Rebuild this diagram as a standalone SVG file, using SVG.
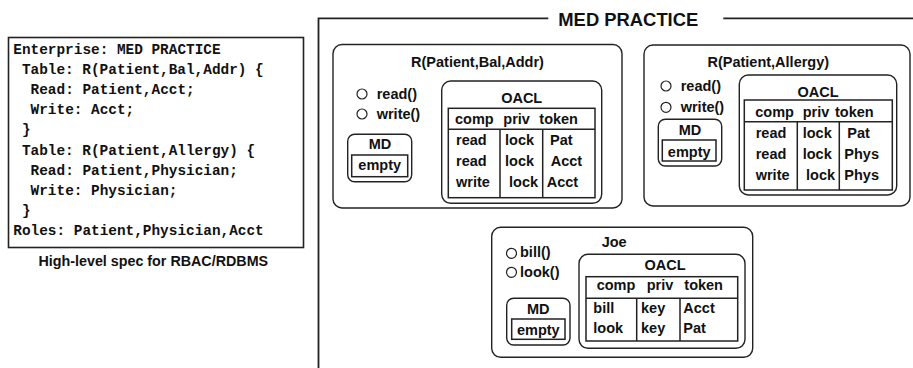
<svg xmlns="http://www.w3.org/2000/svg" width="913" height="368" viewBox="0 0 913 368">
  <style>
    .lbl{font-family:"Liberation Sans",Arial,Helvetica,sans-serif;font-weight:bold;font-size:14.5px;fill:#111}
    .mid{text-anchor:middle}
    .big{font-size:18.4px}
    .code{font-family:"Liberation Mono","Courier New",monospace;font-weight:bold;font-size:14.4px;fill:#111}
    .box{fill:#fff;stroke:#222;stroke-width:1.4}
    .tbl{fill:none;stroke:#222;stroke-width:1.5}
    .port{fill:#fff;stroke:#222;stroke-width:1.2}
    .frame{fill:none;stroke:#222;stroke-width:1.8}
  </style>
  <rect width="913" height="368" fill="#fff"/>

  <!-- textual spec -->
  <g id="spec">
    <rect x="8.5" y="37.5" width="295" height="210" fill="#fff" stroke="#222" stroke-width="1.6"/>
    <text class="code" x="13.3" y="54">Enterprise: MED PRACTICE</text>
    <text class="code" x="21.9" y="74.1">Table: R(Patient,Bal,Addr) {</text>
    <text class="code" x="30.6" y="94.2">Read: Patient,Acct;</text>
    <text class="code" x="30.6" y="114.3">Write: Acct;</text>
    <text class="code" x="21.9" y="134.4">}</text>
    <text class="code" x="21.9" y="154.5">Table: R(Patient,Allergy) {</text>
    <text class="code" x="30.6" y="174.6">Read: Patient,Physician;</text>
    <text class="code" x="30.6" y="194.7">Write: Physician;</text>
    <text class="code" x="21.9" y="214.8">}</text>
    <text class="code" x="13.3" y="234.9">Roles: Patient,Physician,Acct</text>
    <text class="lbl mid" x="153.3" y="266" style="font-size:14.3px">High-level spec for RBAC/RDBMS</text>
  </g>

  <!-- enterprise frame -->
  <g id="enterprise">
    <path class="frame" d="M548.3,18.3 H318.5 V368 M723.3,18.3 H913"/>
    <text class="lbl big mid" x="628.3" y="25.7">MED PRACTICE</text>
  </g>

  <!-- table object R(Patient,Bal,Addr) -->
  <g id="r-patient-bal-addr">
    <rect class="box" x="333" y="44.5" width="289" height="163.5" rx="9"/>
    <text class="lbl mid" x="477.5" y="66.5">R(Patient,Bal,Addr)</text>
    <circle class="port" cx="362" cy="94" r="5"/>
    <text class="lbl" x="376.7" y="98.5">read()</text>
    <circle class="port" cx="362" cy="114" r="5"/>
    <text class="lbl" x="376.7" y="119">write()</text>
    <rect class="box" x="347.7" y="134.3" width="64" height="47.4" rx="7"/>
    <text class="lbl mid" x="380" y="148.5">MD</text>
    <rect class="tbl" x="351.7" y="155" width="56" height="21.7"/>
    <text class="lbl mid" x="379.7" y="170">empty</text>
    <rect class="box" x="441.7" y="81" width="160" height="122.3" rx="9"/>
    <text class="lbl mid" x="521.7" y="102.7">OACL</text>
    <rect class="tbl" x="448.3" y="108.3" width="146.7" height="89.4"/>
    <path class="tbl" d="M448.3,129.3 H595 M500,129.3 V197.7 M542.7,129.3 V197.7"/>
    <text class="lbl" x="455" y="124.3">comp</text>
    <text class="lbl" x="503.3" y="124.3">priv</text>
    <text class="lbl" x="539.3" y="124.3">token</text>
    <text class="lbl" x="456" y="145">read</text>
    <text class="lbl" x="505" y="145">lock</text>
    <text class="lbl" x="550" y="145">Pat</text>
    <text class="lbl" x="456" y="165.7">read</text>
    <text class="lbl" x="505" y="165.7">lock</text>
    <text class="lbl" x="550.7" y="165.7">Acct</text>
    <text class="lbl" x="456" y="186.5">write</text>
    <text class="lbl" x="509" y="186.5">lock</text>
    <text class="lbl" x="546.7" y="186.5">Acct</text>
  </g>

  <!-- table object R(Patient,Allergy) -->
  <g id="r-patient-allergy">
    <rect class="box" x="644" y="45" width="266" height="161" rx="9"/>
    <text class="lbl mid" x="768.3" y="66.7">R(Patient,Allergy)</text>
    <circle class="port" cx="666" cy="86" r="5"/>
    <text class="lbl" x="680.7" y="90.7">read()</text>
    <circle class="port" cx="666" cy="107.3" r="5"/>
    <text class="lbl" x="680.7" y="111.7">write()</text>
    <rect class="box" x="658.3" y="119.3" width="63.4" height="46.7" rx="7"/>
    <text class="lbl mid" x="690" y="135">MD</text>
    <rect class="tbl" x="662.3" y="140" width="53.7" height="21"/>
    <text class="lbl mid" x="689.2" y="156.7">empty</text>
    <rect class="box" x="739.3" y="75" width="157.4" height="120" rx="9"/>
    <text class="lbl mid" x="818" y="96.7">OACL</text>
    <rect class="tbl" x="744.3" y="100" width="148" height="90"/>
    <path class="tbl" d="M744.3,121.7 H892.3 M797.3,121.7 V190 M839.3,121.7 V190"/>
    <text class="lbl" x="755.3" y="117.3">comp</text>
    <text class="lbl" x="802.7" y="117.3">priv</text>
    <text class="lbl" x="835" y="117.3">token</text>
    <text class="lbl" x="755.7" y="137.7">read</text>
    <text class="lbl" x="802.7" y="137.7">lock</text>
    <text class="lbl" x="847.3" y="137.7">Pat</text>
    <text class="lbl" x="755.7" y="159.3">read</text>
    <text class="lbl" x="802.7" y="159.3">lock</text>
    <text class="lbl" x="844.3" y="159.3">Phys</text>
    <text class="lbl" x="755.7" y="180">write</text>
    <text class="lbl" x="806" y="180">lock</text>
    <text class="lbl" x="844.3" y="180">Phys</text>
  </g>

  <!-- role object Joe -->
  <g id="joe">
    <rect class="box" x="491.7" y="227.3" width="261" height="130" rx="9"/>
    <text class="lbl" x="601.7" y="247.3">Joe</text>
    <circle class="port" cx="511.5" cy="253.3" r="5"/>
    <text class="lbl" x="520" y="257.3">bill()</text>
    <circle class="port" cx="511.5" cy="272.3" r="5"/>
    <text class="lbl" x="520" y="276.7">look()</text>
    <rect class="box" x="506.7" y="298.3" width="63.3" height="46.7" rx="7"/>
    <text class="lbl mid" x="538.3" y="314.3">MD</text>
    <rect class="tbl" x="511.7" y="319" width="53.3" height="20.3"/>
    <text class="lbl mid" x="538.3" y="335">empty</text>
    <rect class="box" x="579" y="254.3" width="166" height="94" rx="9"/>
    <text class="lbl mid" x="665" y="270">OACL</text>
    <rect class="tbl" x="586" y="276.7" width="151.7" height="64.3"/>
    <path class="tbl" d="M586,298.3 H737.7 M636.7,298.3 V341 M680,298.3 V341"/>
    <text class="lbl" x="596.7" y="290">comp</text>
    <text class="lbl" x="646.7" y="290">priv</text>
    <text class="lbl" x="684.3" y="290">token</text>
    <text class="lbl" x="593.3" y="312.7">bill</text>
    <text class="lbl" x="641" y="312.7">key</text>
    <text class="lbl" x="683.3" y="312.7">Acct</text>
    <text class="lbl" x="593.3" y="333.3">look</text>
    <text class="lbl" x="641" y="333.3">key</text>
    <text class="lbl" x="683.3" y="333.3">Pat</text>
  </g>

  <!-- no connectors between the objects -->
  <g id="connectors"/>
</svg>
